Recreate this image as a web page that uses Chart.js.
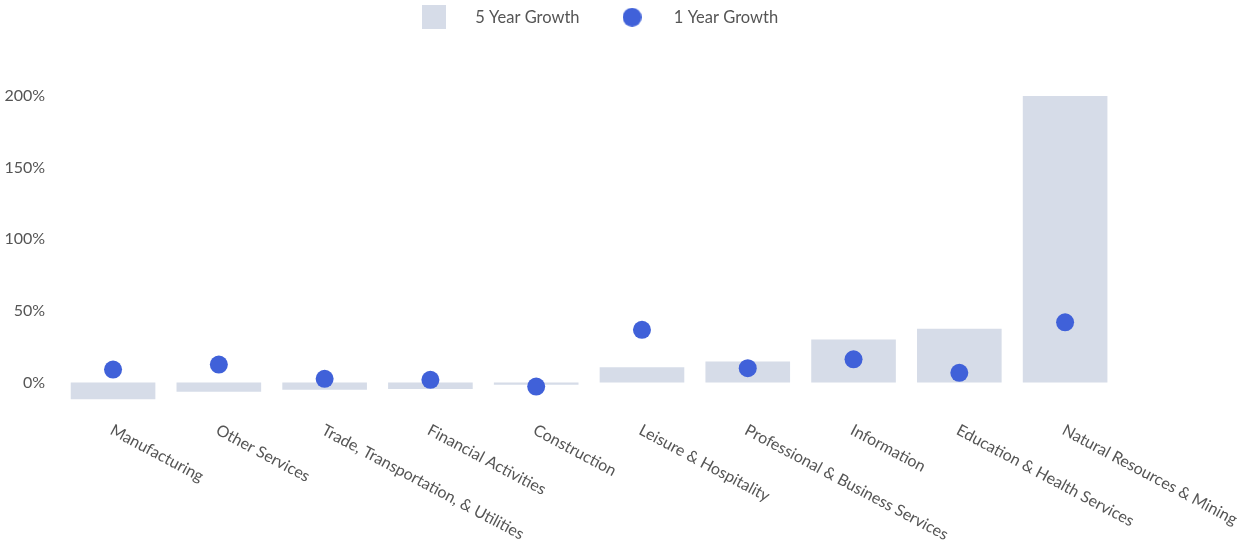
<!DOCTYPE html>
<html>
<head>
<meta charset="utf-8">
<title>Employment Growth by Industry</title>
<script src="https://cdn.jsdelivr.net/npm/chart.js@4/dist/chart.umd.min.js"></script>
<style>
  html, body { margin: 0; padding: 0; background: #fff; }
  #wrap { width: 1249px; height: 550px; position: relative; }
</style>
</head>
<body>
<div id="wrap"><canvas id="growth-chart"></canvas></div>
<script>
const industries = [
  'Manufacturing',
  'Other Services',
  'Trade, Transportation, & Utilities',
  'Financial Activities',
  'Construction',
  'Leisure & Hospitality',
  'Professional & Business Services',
  'Information',
  'Education & Health Services',
  'Natural Resources & Mining'
];
const fiveYearGrowth = [-11.6, -6.5, -5, -4.5, -1.5, 10.7, 14.7, 30, 37.5, 200];
const oneYearGrowth = [9, 12.5, 2.6, 1.9, -2.8, 36.8, 10, 16.2, 6.8, 42];
const yTicks = [0, 50, 100, 150, 200];

const barColor = '#d6dce8';
const dotColor = '#4061d9';
const textColor = '#555555';
const fontFamily = 'Lato, "Open Sans", sans-serif';

// small swatches used as legend markers
function swatch(size, color, round) {
  const c = document.createElement('canvas');
  c.width = size; c.height = size;
  const g = c.getContext('2d');
  g.fillStyle = color;
  if (round) {
    g.beginPath();
    g.arc(size / 2, size / 2, size / 2, 0, Math.PI * 2);
    g.fill();
  } else {
    g.fillRect(0, 0, size, size);
  }
  return c;
}
const legendMarks = [swatch(24, barColor, false), swatch(19, dotColor, true)];

// x labels slant down to the right from each tick
const slantedLabels = {
  id: 'slantedLabels',
  afterDraw(chart) {
    const xs = chart.scales.x;
    const ctx = chart.ctx;
    ctx.save();
    ctx.font = '16px ' + fontFamily;
    ctx.fillStyle = textColor;
    ctx.textAlign = 'left';
    ctx.textBaseline = 'top';
    industries.forEach((name, i) => {
      ctx.save();
      ctx.translate(xs.getPixelForTick(i) + 2, xs.top + 18);
      ctx.rotate(28 * Math.PI / 180);
      ctx.fillText(name, 0, 0);
      ctx.restore();
    });
    ctx.restore();
  }
};

new Chart(document.getElementById('growth-chart').getContext('2d'), {
  data: {
    labels: industries,
    datasets: [{
      type: 'bar',
      label: '5 Year Growth',
      data: fiveYearGrowth,
      backgroundColor: barColor,
      barPercentage: 0.8,
      categoryPercentage: 1.0,
      order: 2
    }, {
      type: 'line',
      label: '1 Year Growth',
      data: oneYearGrowth,
      showLine: false,
      pointRadius: 9,
      pointHoverRadius: 9,
      pointBackgroundColor: dotColor,
      pointBorderWidth: 0,
      borderColor: dotColor,
      backgroundColor: dotColor,
      order: 1
    }]
  },
  options: {
    responsive: true,
    maintainAspectRatio: false,
    animation: false,
    layout: {
      // y tick padding is counted on both sides of the labels, pull them back left
      padding: { left: -10.5, right: 131, top: -10, bottom: 0 }
    },
    plugins: {
      tooltip: { enabled: false },
      legend: {
        position: 'top',
        fullSize: false,
        labels: {
          color: textColor,
          font: { family: fontFamily, size: 16.5 },
          usePointStyle: true,
          pointStyleWidth: 67,
          padding: 19,
          sort: (a, b) => a.datasetIndex - b.datasetIndex,
          generateLabels(chart) {
            const items = Chart.defaults.plugins.legend.labels.generateLabels(chart);
            items.forEach((it) => { it.pointStyle = legendMarks[it.datasetIndex]; });
            return items;
          }
        }
      },
      // empty title used as a spacer between legend and plot
      title: {
        display: true,
        text: '',
        position: 'top',
        fullSize: false,
        weight: 500,
        font: { size: 10, lineHeight: 1 },
        padding: { top: 50.5, bottom: 0 }
      }
    },
    scales: {
      x: {
        grid: { display: false, drawTicks: false },
        border: { display: false },
        ticks: { display: false },
        // room for the slanted labels
        afterFit(scale) { scale.height = 146; }
      },
      y: {
        min: -15,
        max: 200,
        grid: { display: false, drawTicks: false },
        border: { display: false },
        afterBuildTicks(scale) {
          scale.ticks = yTicks.map((v) => ({ value: v }));
        },
        ticks: {
          color: textColor,
          padding: 15,
          font: { family: fontFamily, size: 16 },
          callback: (v) => v + '%'
        }
      }
    }
  },
  plugins: [slantedLabels]
});
</script>
</body>
</html>
